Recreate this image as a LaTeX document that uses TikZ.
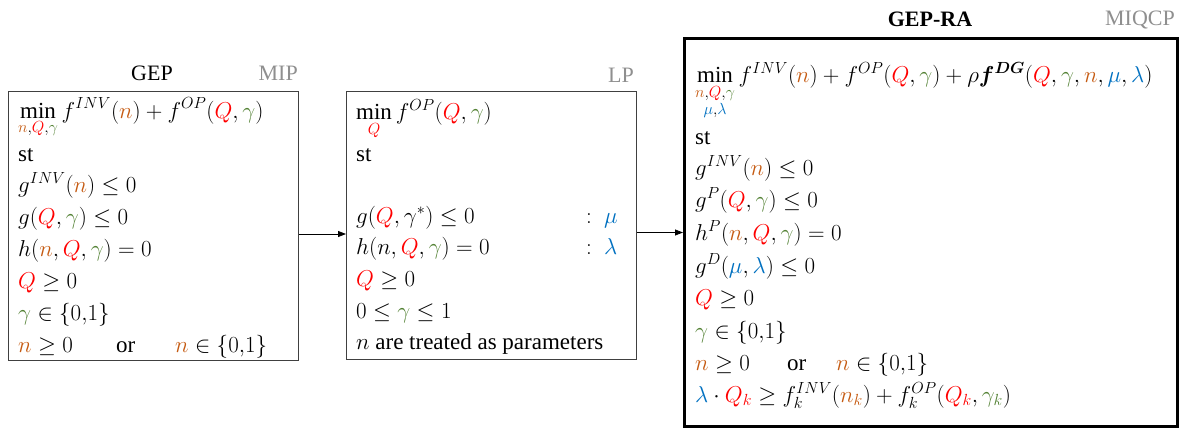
\documentclass[tikz,border=0pt]{standalone}
\usepackage{fix-cm}
\usepackage{amsmath,amssymb}
\usepackage{fontspec}
\setmainfont{Liberation Serif}
\usetikzlibrary{arrows.meta,calc}
\definecolor{cn}{HTML}{C55A11}
\definecolor{cq}{HTML}{FF0000}
\definecolor{cg}{HTML}{548235}
\definecolor{cb}{HTML}{0070C0}
\definecolor{labgray}{HTML}{8F8F8F}
\definecolor{boxgray}{HTML}{404040}
\newcommand{\cN}{{\color{cn}n}}
\newcommand{\cQ}{{\color{cq}Q}}
\newcommand{\cG}{{\color{cg}\gamma}}
\newcommand{\cM}{{\color{cb}\mu}}
\newcommand{\cL}{{\color{cb}\lambda}}
\newcommand{\bigf}{\fontsize{23}{27}\selectfont}
\newcommand{\ttlf}{\fontsize{22}{26}\selectfont}
\tikzset{
  box/.style={draw=boxgray, line width=1pt, anchor=north west, inner sep=0pt},
  ln/.style={anchor=base west, inner sep=0pt, font=\bigf},
  lab/.style={anchor=base east, inner sep=0pt, font=\ttlf, text=labgray},
  ttl/.style={anchor=base, inner sep=0pt, font=\ttlf},
  arr/.style={-{Triangle[length=8pt,width=6pt]}, line width=0.8pt},
}
\begin{document}
\begin{tikzpicture}[x=1pt,y=-1pt]
\useasboundingbox (0,0) rectangle (1184,428);
% boxes
\node[box, minimum width=290pt, minimum height=269pt] (b1) at (8,91) {};
\node[box, minimum width=290pt, minimum height=268pt] (b2) at (346,91) {};
\node[box, draw=black, line width=2.6pt, minimum width=493pt, minimum height=388pt] (b3) at (683,37) {};
% titles
\node[ttl] (t1) at (152,81) {GEP};
\node[lab] (l1) at (298,81) {MIP};
\node[lab] (l2) at (634,82) {LP};
\node[ttl, font=\ttlf\bfseries] (t3) at (930,27) {GEP-RA};
\node[lab] (l3) at (1175,26) {MIQCP};
% box 1
\node[ln] (a1) at (18,118) {$\displaystyle\min_{\cN,\cQ,\cG} f^{INV}(\cN)+f^{OP}(\cQ,\cG)$};
\node[ln] (a2) at (18,161) {st};
\node[ln] (a3) at (18,192) {$g^{INV}(\cN)\le 0$};
\node[ln] (a4) at (18,224) {$g(\cQ,\cG)\le 0$};
\node[ln] (a5) at (18,256) {$h(\cN,\cQ,\cG)=0$};
\node[ln] (a6) at (18,288) {$\cQ\ge 0$};
\node[ln] (a7) at (18,320) {$\cG\in\{0{,}1\}$};
\node[ln] (a8) at (18,352) {\makebox[98pt][l]{$\cN\ge 0$}\makebox[59pt][l]{or}$\cN\in\{0{,}1\}$};
% box 2
\node[ln] (p1) at (356,120) {$\displaystyle\min_{\cQ} f^{OP}(\cQ,\cG)$};
\node[ln] (p2) at (356,161) {st};
\node[ln] (p3) at (356,223) {$g(\cQ,\gamma^{*})\le 0$};
\node[ln] (p3m) at (586,223) {$:\ \cM$};
\node[ln] (p4) at (356,254) {$h(n,\cQ,\cG)=0$};
\node[ln] (p4m) at (586,254) {$:\ \cL$};
\node[ln] (p5) at (356,286) {$\cQ\ge 0$};
\node[ln] (p6) at (356,318) {$0\le\cG\le 1$};
\node[ln] (p7) at (356,349) {$n$ are treated as parameters};
% box 3
\node[ln] (r1) at (695,83) {$\displaystyle\min_{\substack{\cN,\cQ,\cG\\ \cM,\cL}} f^{INV}(\cN)+f^{OP}(\cQ,\cG)+\rho\boldsymbol{f}^{\boldsymbol{DG}}(\cQ,\cG,\cN,\cM,\cL)$};
\node[ln] (r2) at (695,144) {st};
\node[ln] (r3) at (695,175) {$g^{INV}(\cN)\le 0$};
\node[ln] (r4) at (695,207) {$g^{P}(\cQ,\cG)\le 0$};
\node[ln] (r5) at (695,240) {$h^{P}(\cN,\cQ,\cG)=0$};
\node[ln] (r6) at (695,273) {$g^{D}(\cM,\cL)\le 0$};
\node[ln] (r7) at (695,305) {$\cQ\ge 0$};
\node[ln] (r8) at (695,338) {$\cG\in\{0{,}1\}$};
\node[ln] (r9) at (695,370) {\makebox[92pt][l]{$\cN\ge 0$}\makebox[49pt][l]{or}$\cN\in\{0{,}1\}$};
\node[ln] (r10) at (695,402) {$\cL\cdot{\color{cq}Q_k}\ge f_k^{INV}({\color{cn}n_k})+f_k^{OP}({\color{cq}Q_k},{\color{cg}\gamma_k})$};
% arrows
\draw[arr] ([yshift=-8pt]b1.east) coordinate (s1) -- (s1 -| b2.west);
\draw[arr] ([yshift=-7pt]b2.east) coordinate (s2) -- (s2 -| b3.west);
\end{tikzpicture}
\end{document}
